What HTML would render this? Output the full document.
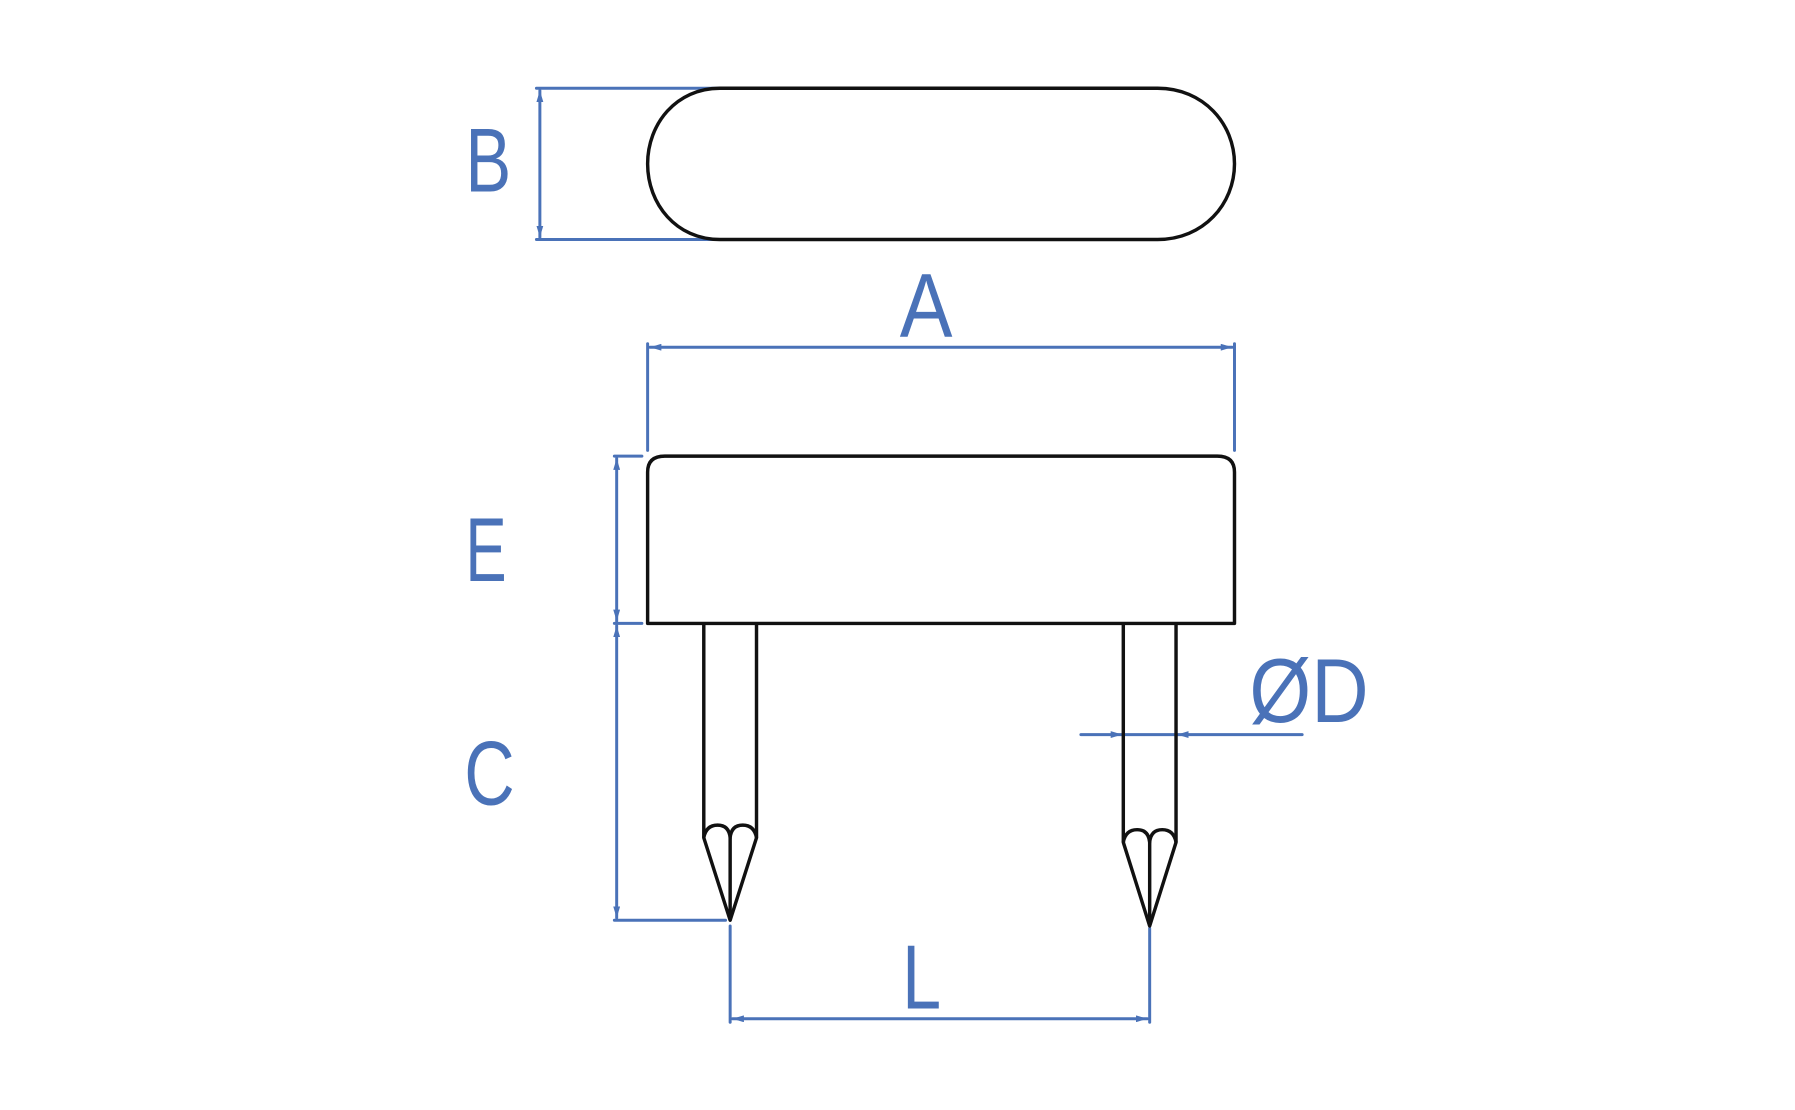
<!DOCTYPE html>
<html><head><meta charset="utf-8"><style>
html,body{margin:0;padding:0;background:#fff;width:1795px;height:1110px;overflow:hidden}
svg{display:block}
text{font-family:"Liberation Sans",sans-serif;fill:#4a72b8;font-size:79px;text-anchor:middle}
</style></head><body>
<svg width="1795" height="1110" viewBox="0 0 1566 968.6" preserveAspectRatio="none" xmlns="http://www.w3.org/2000/svg">
<defs>
<marker id="ar" viewBox="0 0 10 6" refX="10" refY="3" markerWidth="10" markerHeight="6" markerUnits="userSpaceOnUse" orient="auto-start-reverse"><path d="M0,0 L10,3 L0,6 Z" fill="#4a72b8"/></marker>
</defs>
<g fill="none" stroke="#4a72b8" stroke-width="2.6" stroke-linecap="round">
 <line x1="468" y1="77" x2="628" y2="77"/>
 <line x1="468" y1="209" x2="628" y2="209"/>
 <line x1="471" y1="79" x2="471" y2="207" marker-start="url(#ar)" marker-end="url(#ar)"/>
 <line x1="567" y1="303" x2="1075" y2="303" marker-start="url(#ar)" marker-end="url(#ar)"/>
 <line x1="565" y1="300" x2="565" y2="393"/>
 <line x1="1077" y1="300" x2="1077" y2="393"/>
 <line x1="536" y1="398" x2="560" y2="398"/>
 <line x1="536" y1="544" x2="560" y2="544"/>
 <line x1="538" y1="400" x2="538" y2="542" marker-start="url(#ar)" marker-end="url(#ar)"/>
 <line x1="538" y1="546" x2="538" y2="801" marker-start="url(#ar)" marker-end="url(#ar)"/>
 <line x1="536" y1="803" x2="633" y2="803"/>
 <line x1="637" y1="808" x2="637" y2="892"/>
 <line x1="1003" y1="810" x2="1003" y2="892"/>
 <line x1="639" y1="889" x2="1001" y2="889" marker-start="url(#ar)" marker-end="url(#ar)"/>
 <line x1="943" y1="641" x2="979" y2="641" marker-end="url(#ar)"/>
 <line x1="1136" y1="641" x2="1027" y2="641" marker-end="url(#ar)"/>
 <line x1="980" y1="641" x2="1026" y2="641"/>
</g>
<g fill="none" stroke="#111" stroke-width="3" stroke-linejoin="round">
 <path d="M628,77 H1010 C1050,77 1077,108 1077,143 C1077,178 1050,209 1010,209 H628 C590,209 565,178 565,143 C565,108 590,77 628,77 Z"/>
 <path d="M565,544 V412 Q565,398 580,398 H1062 Q1077,398 1077,412 V544 Z"/>
 <path d="M614,544 V731 L637,803 L660,731 V544"/>
 <path d="M614,731 Q616,720 626,720 Q636,720 637,731 Q638,720 648,720 Q658,720 660,731"/>
 <path d="M637,731 V803"/>
 <path d="M980,544 V735 L1003,808 L1026,735 V544"/>
 <path d="M980,735 Q982,724 992,724 Q1002,724 1003,735 Q1004,724 1014,724 Q1024,724 1026,735"/>
 <path d="M1003,735 V808"/>
</g>
<text x="426" y="167" textLength="40" lengthAdjust="spacingAndGlyphs">B</text>
<text x="808" y="294" textLength="46" lengthAdjust="spacingAndGlyphs">A</text>
<text x="424" y="507" textLength="36" lengthAdjust="spacingAndGlyphs">E</text>
<text x="427" y="702" textLength="44" lengthAdjust="spacingAndGlyphs">C</text>
<text x="804" y="880" textLength="34" lengthAdjust="spacingAndGlyphs">L</text>
<text x="1142" y="630" textLength="104" lengthAdjust="spacingAndGlyphs">ØD</text>
</svg>
</body></html>
